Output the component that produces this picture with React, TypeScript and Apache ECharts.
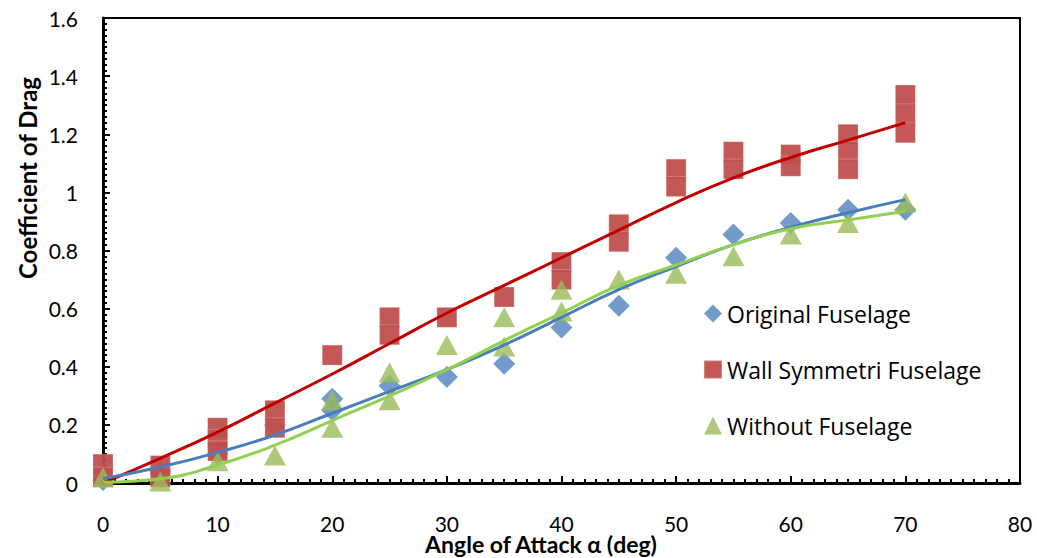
import React, { useEffect, useRef } from "react";
import * as echarts from "echarts";

const xTicks = [0, 10, 20, 30, 40, 50, 60, 70, 80];
const yTicks = [0, 0.2, 0.4, 0.6, 0.8, 1, 1.2, 1.4, 1.6];

const seriesNames = ["Original Fuselage", "Wall Symmetri Fuselage", "Without Fuselage"];

// Scatter measurements
const originalX = [0, 5, 10, 15, 20, 20, 25, 30, 35, 40, 45, 50, 55, 60, 65, 70];
const originalY = [0.01, 0.04, 0.1, 0.2, 0.29, 0.25, 0.335, 0.365, 0.41, 0.535, 0.61, 0.775, 0.855, 0.895, 0.94, 0.94];

const wallX = [0, 0, 5, 5, 10, 10, 10, 15, 15, 20, 25, 25, 30, 35, 40, 40, 45, 45, 50, 50, 55, 55, 60, 60, 65, 65, 65, 70, 70, 70];
const wallY = [0.065, 0.02, 0.06, 0.02, 0.19, 0.15, 0.11, 0.25, 0.19, 0.44, 0.57, 0.51, 0.57, 0.64, 0.76, 0.7, 0.89, 0.83, 1.08, 1.02, 1.14, 1.08, 1.13, 1.09, 1.2, 1.14, 1.08, 1.335, 1.27, 1.205];

const withoutX = [0, 5, 10, 15, 20, 20, 25, 25, 30, 35, 35, 40, 40, 45, 50, 55, 60, 65, 70];
const withoutY = [0.02, 0.005, 0.075, 0.095, 0.285, 0.19, 0.38, 0.285, 0.475, 0.57, 0.47, 0.665, 0.59, 0.7, 0.72, 0.78, 0.855, 0.895, 0.965];

// Trend lines
const trendX = [0, 5, 10, 15, 20, 25, 30, 35, 40, 45, 50, 55, 60, 65, 70];
const originalTrend = [0.015, 0.055, 0.105, 0.165, 0.24, 0.315, 0.39, 0.475, 0.57, 0.665, 0.745, 0.82, 0.88, 0.93, 0.975];
const wallTrend = [0, 0.085, 0.175, 0.275, 0.375, 0.48, 0.585, 0.68, 0.775, 0.87, 0.965, 1.05, 1.12, 1.18, 1.24];
const withoutTrend = [0.003, 0.015, 0.062, 0.13, 0.215, 0.3, 0.39, 0.49, 0.585, 0.68, 0.75, 0.82, 0.875, 0.905, 0.935];

const FONT = "Lato";
const LEGEND_FONT = "Open Sans";

const zip = (xs: number[], ys: number[]) => xs.map((x, i) => [x, ys[i]]);

export default function App() {
  const ref = useRef<HTMLDivElement>(null);
  useEffect(() => {
    if (!ref.current) return;
    const chart = echarts.init(ref.current, null, { renderer: "svg" });
    const axisCommon = {
      axisLine: { show: true, onZero: false, lineStyle: { color: "#000", width: 3 } },
      axisTick: { show: true, inside: true, length: 7, lineStyle: { color: "#000", width: 2 } },
      minorTick: { show: true, splitNumber: 10, length: 4, lineStyle: { color: "#000", width: 2 } },
      splitLine: { show: false },
      minorSplitLine: { show: false },
    };
    chart.setOption({
      animation: false,
      backgroundColor: "#fff",
      grid: { left: 103, right: 17, top: 18, bottom: 75, show: true, borderColor: "#000", borderWidth: 2, backgroundColor: "transparent" },
      xAxis: {
        type: "value",
        min: xTicks[0],
        max: xTicks[xTicks.length - 1],
        interval: 10,
        ...axisCommon,
        axisLabel: { fontFamily: FONT, fontSize: 21, color: "#000", margin: 30 },
      },
      yAxis: {
        type: "value",
        min: yTicks[0],
        max: yTicks[yTicks.length - 1],
        interval: 0.2,
        ...axisCommon,
        axisLabel: { fontFamily: FONT, fontSize: 21, color: "#000", margin: 25, formatter: (v: number) => String(Math.round(v * 10) / 10) },
      },
      legend: {
        orient: "vertical",
        left: 698,
        top: 297,
        itemGap: 33,
        itemWidth: 18,
        itemHeight: 18,
        textStyle: { fontFamily: LEGEND_FONT, fontSize: 23, color: "#000" },
        data: [
          { name: seriesNames[0], icon: "diamond" },
          { name: seriesNames[1], icon: "rect" },
          { name: seriesNames[2], icon: "triangle" },
        ],
      },
      graphic: [
        {
          type: "text",
          x: 27,
          y: 178,
          rotation: Math.PI / 2,
          style: { text: "Coefficient of Drag", font: `bold 24px ${FONT}`, fill: "#000", align: "center", verticalAlign: "middle" },
        },
        {
          type: "text",
          x: 541,
          y: 544,
          style: { text: "Angle of Attack α (deg)", font: `bold 23px ${FONT}`, fill: "#000", align: "center", verticalAlign: "middle" },
        },
      ],
      series: [
        {
          name: seriesNames[0],
          type: "scatter",
          symbol: "diamond",
          symbolSize: [22, 22],
          itemStyle: { color: "#4F81BD" },
          z: 2,
          data: zip(originalX, originalY),
        },
        {
          name: seriesNames[1],
          type: "scatter",
          symbol: "rect",
          symbolSize: 20,
          itemStyle: { color: "#C0504D", opacity: 0.95, borderColor: "rgba(255,255,255,0.25)", borderWidth: 1 },
          z: 3,
          data: zip(wallX, wallY),
        },
        {
          name: seriesNames[2],
          type: "scatter",
          symbol: "triangle",
          symbolSize: [22, 20],
          itemStyle: { color: "#9BBB59" },
          z: 4,
          data: zip(withoutX, withoutY),
        },
        {
          name: "wallTrend",
          type: "line",
          smooth: true,
          symbol: "none",
          lineStyle: { color: "#C00000", width: 3 },
          z: 5,
          data: zip(trendX, wallTrend),
        },
        {
          name: "originalTrend",
          type: "line",
          smooth: true,
          symbol: "none",
          lineStyle: { color: "#4A7EBB", width: 3 },
          z: 6,
          data: zip(trendX, originalTrend),
        },
        {
          name: "withoutTrend",
          type: "line",
          smooth: true,
          symbol: "none",
          lineStyle: { color: "#92D050", width: 3 },
          z: 7,
          data: zip(trendX, withoutTrend),
        },
      ],
    });
    return () => chart.dispose();
  }, []);
  return <div ref={ref} style={{ position: "fixed", left: 0, top: 0, width: 1037, height: 558 }} />;
}
